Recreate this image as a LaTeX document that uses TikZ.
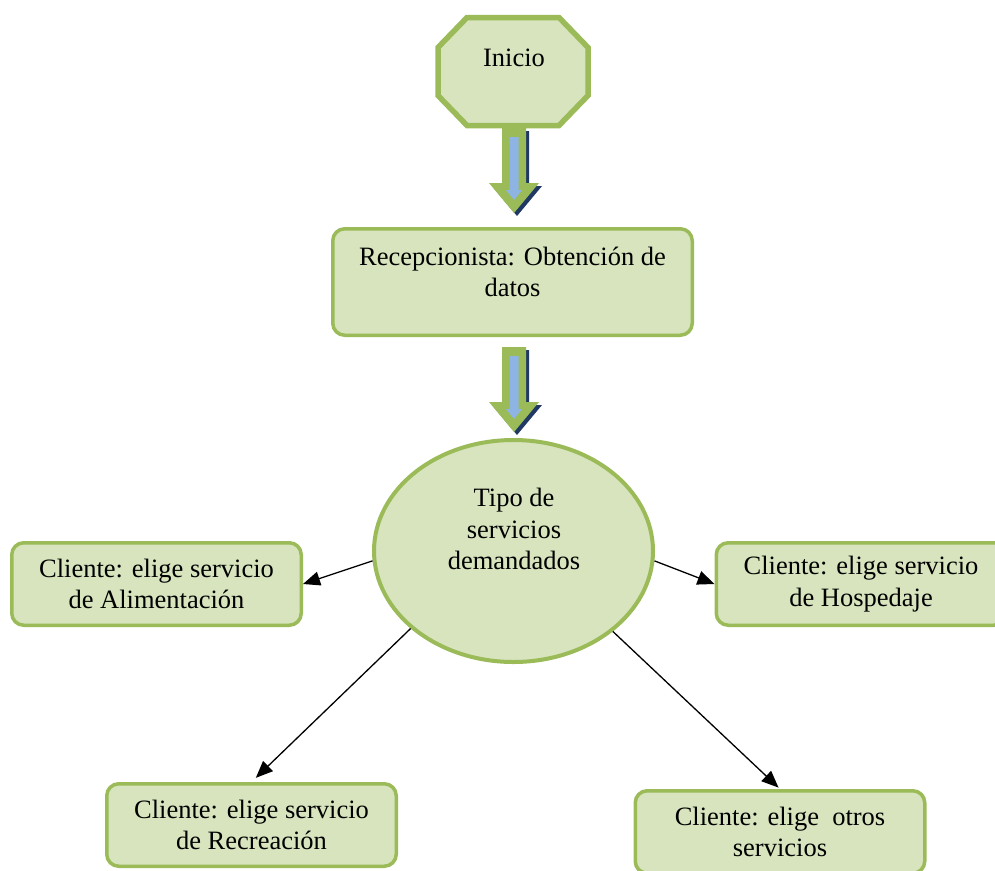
\documentclass[tikz,border=0pt]{standalone}
\usepackage{fontspec}
\setmainfont{Liberation Serif}
\usepackage{tikz}
\usetikzlibrary{arrows.meta,shapes.geometric,positioning,calc}
\definecolor{leaf}{HTML}{9BBB59}
\definecolor{pale}{HTML}{D7E4BD}
\definecolor{sky}{HTML}{8EB4E3}
\definecolor{navy}{HTML}{1F3864}

\tikzset{
  downarr/.pic={
    \fill[navy] (-9,3) -- (15,3) -- (15,58) -- (28,58) -- (3,88) -- (-22,58) -- (-9,58) -- cycle;
    \fill[leaf] (-12,0) -- (12,0) -- (12,55) -- (25,55) -- (0,85) -- (-25,55) -- (-12,55) -- cycle;
    \fill[sky] (-4.5,9) -- (4.5,9) -- (4.5,62) -- (8,62) -- (0,72) -- (-8,62) -- (-4.5,62) -- cycle;
  }
}

\begin{document}
\begin{tikzpicture}[x=1pt,y=-1pt,>={Triangle[length=17pt,width=14pt]},
  every node/.style={font=\fontsize{26.5}{31.5}\selectfont,align=center},
  box/.style={draw=leaf,fill=pale,line width=3.5pt,rounded corners=12pt,minimum height=82.5pt,minimum width=289.5pt},
  link/.style={->,line width=1.3pt}]
\useasboundingbox (0,0) rectangle (995,870);

\draw[draw=leaf,fill=pale,line width=5.5pt,shift={(513,71.5)}]
  (-46,-54) -- (46,-54) -- (75,-24) -- (75,24) -- (46,54) -- (-46,54) -- (-75,24) -- (-75,-24) -- cycle;
\node (inicio) at (514,58) {Inicio};

\node[box,minimum width=359.5pt,minimum height=106.5pt,text depth=20pt] (recep) at (512.5,282) {Recepcionista: Obtención de\\datos};

\node[draw=leaf,fill=pale,line width=4pt,ellipse,minimum width=279pt,minimum height=222pt] (tipo) at (513.5,551) {};
\node (tipotxt) at (514,529) {Tipo de\\servicios\\demandados};

\pic at (514,128) {downarr};
\pic at (514,347) {downarr};

\node[box] (alim) at (156.5,584) {Cliente: elige servicio\\de Alimentación};
\node[box] (hosp) at (861,584) {Cliente: elige servicio\\de Hospedaje};
\node[box] (recr) at (251.5,825) {Cliente: elige servicio\\de Recreación};
\node[box] (otros) at (780,832) {Cliente: elige\ \ otros\\servicios};

\draw[link] (tipo.184) -- (alim.east);
\draw[link] (tipo.356) -- (hosp.west);
\draw[link,shorten >=6pt] (tipo.217) -- (recr.north);
\draw[link,shorten >=2pt] (tipo.321) -- (otros.north);
\end{tikzpicture}
\end{document}
